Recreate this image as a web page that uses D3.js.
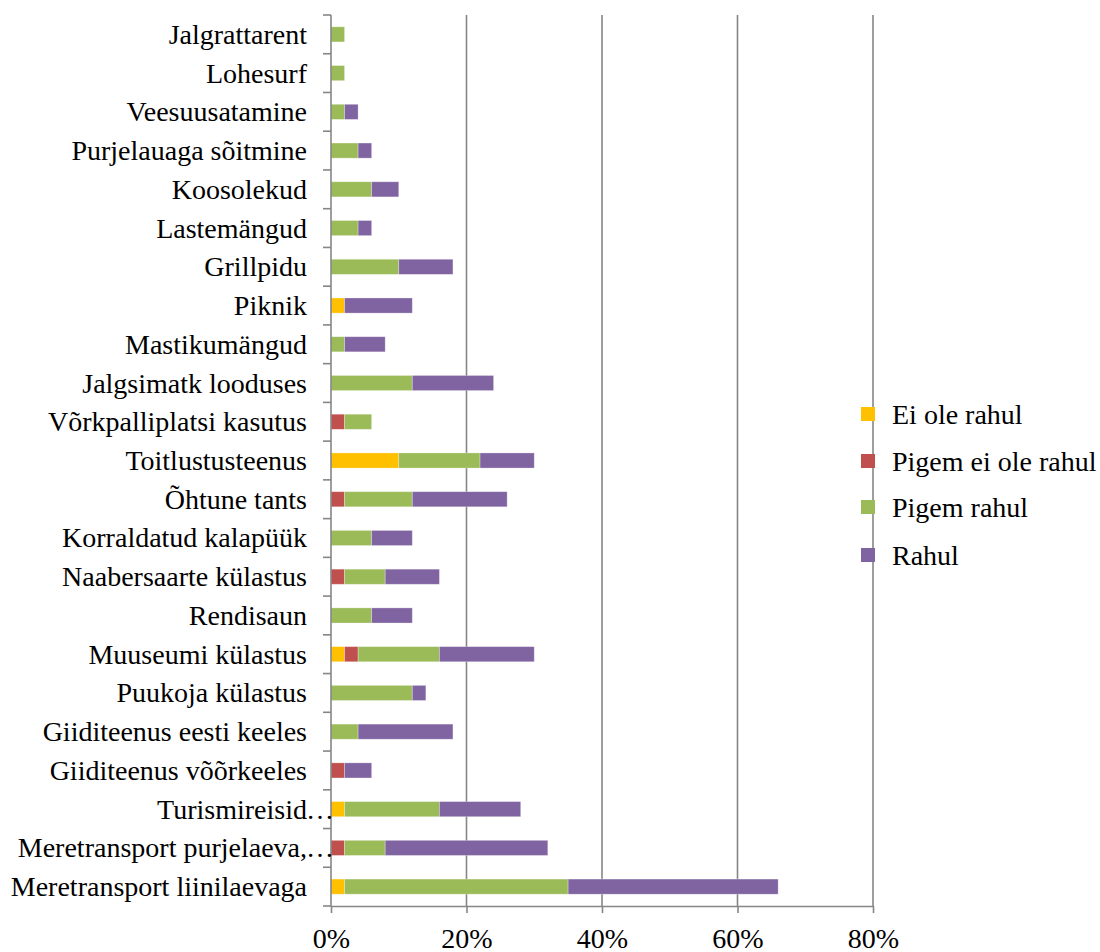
<!DOCTYPE html>
<html>
<head>
<meta charset="utf-8">
<script src="https://cdn.jsdelivr.net/npm/d3@7"></script>
<style>
  html, body { margin: 0; padding: 0; background: #ffffff; }
  svg { display: block; }
  text { font-family: "Liberation Serif", "Times New Roman", serif; fill: #000; }
</style>
</head>
<body>
<svg id="chart" width="1100" height="952"></svg>
<script>
// Categories, top to bottom
const categories = [
  "Jalgrattarent",
  "Lohesurf",
  "Veesuusatamine",
  "Purjelauaga sõitmine",
  "Koosolekud",
  "Lastemängud",
  "Grillpidu",
  "Piknik",
  "Mastikumängud",
  "Jalgsimatk looduses",
  "Võrkpalliplatsi kasutus",
  "Toitlustusteenus",
  "Õhtune tants",
  "Korraldatud kalapüük",
  "Naabersaarte külastus",
  "Rendisaun",
  "Muuseumi külastus",
  "Puukoja külastus",
  "Giiditeenus eesti keeles",
  "Giiditeenus võõrkeeles",
  "Turismireisid…",
  "Meretransport purjelaeva,…",
  "Meretransport liinilaevaga"
];

// Shares of respondents (%), one array per answer
const eiOleRahul      = [0, 0, 0, 0, 0, 0, 0, 2, 0, 0, 0, 10, 0, 0, 0, 0, 2, 0, 0, 0, 2, 0, 2];
const pigemEiOleRahul = [0, 0, 0, 0, 0, 0, 0, 0, 0, 0, 2, 0, 2, 0, 2, 0, 2, 0, 0, 2, 0, 2, 0];
const pigemRahul      = [2, 2, 2, 4, 6, 4, 10, 0, 2, 12, 4, 12, 10, 6, 6, 6, 12, 12, 4, 0, 14, 6, 33];
const rahul           = [0, 0, 2, 2, 4, 2, 8, 10, 6, 12, 0, 8, 14, 6, 8, 6, 14, 2, 14, 4, 12, 24, 31];

const seriesNames  = ["Ei ole rahul", "Pigem ei ole rahul", "Pigem rahul", "Rahul"];
const seriesColors = ["#FFC000", "#C0504D", "#9BBB59", "#8064A2"];
const xTicks = [0, 20, 40, 60, 80];

const seriesValues = [eiOleRahul, pigemEiOleRahul, pigemRahul, rahul];
const rows = categories.map((c, i) => {
  const r = { category: c };
  seriesNames.forEach((s, k) => { r[s] = seriesValues[k][i]; });
  return r;
});

const svg = d3.select("#chart");

const plotLeft = 331, plotRight = 873, plotTop = 15, plotBottom = 906;
const fontSize = 28;

const x = d3.scaleLinear().domain([0, 80]).range([plotLeft, plotRight]);
const y = d3.scaleBand()
  .domain(categories)
  .range([plotTop, plotBottom])
  .paddingInner(0.61)
  .paddingOuter(0.305);

const gridColor = "#868686";

// vertical gridlines
svg.append("g")
  .selectAll("line")
  .data(xTicks.filter(t => t > 0))
  .join("line")
  .attr("x1", d => x(d)).attr("x2", d => x(d))
  .attr("y1", plotTop).attr("y2", plotBottom)
  .attr("stroke", gridColor)
  .attr("stroke-width", 1.6);

// stacked bars
const stack = d3.stack().keys(seriesNames);
const stacked = stack(rows);

svg.append("g")
  .selectAll("g")
  .data(stacked)
  .join("g")
  .attr("fill", (d, i) => seriesColors[i])
  .selectAll("rect")
  .data(d => d.filter(p => p[1] - p[0] > 0))
  .join("rect")
  .attr("x", d => x(d[0]))
  .attr("width", d => x(d[1]) - x(d[0]))
  .attr("y", d => y(d.data.category))
  .attr("height", y.bandwidth())
  .attr("stroke", "rgba(255,255,255,0.35)")
  .attr("stroke-width", 0.8);

// bottom axis
const xAxis = d3.axisBottom(x)
  .tickValues(xTicks)
  .tickFormat(d => d + "%")
  .tickSizeInner(7)
  .tickSizeOuter(0)
  .tickPadding(15);

const gx = svg.append("g")
  .attr("transform", `translate(0,${plotBottom})`)
  .call(xAxis);
gx.select(".domain").attr("stroke", gridColor).attr("stroke-width", 1.6);
gx.selectAll(".tick line").attr("stroke", gridColor).attr("stroke-width", 1.6);
gx.selectAll(".tick text")
  .attr("font-family", "Liberation Serif, Times New Roman, serif")
  .attr("font-size", fontSize)
  .attr("fill", "#000");

// left axis line with ticks at band boundaries
const step = y.step();
const boundaries = categories.map(c => y(c) - (step - y.bandwidth()) / 2);
boundaries.push(plotBottom);

const gy = svg.append("g");
gy.append("line")
  .attr("x1", plotLeft).attr("x2", plotLeft)
  .attr("y1", plotTop).attr("y2", plotBottom)
  .attr("stroke", gridColor).attr("stroke-width", 1.6);
gy.selectAll("line.tk")
  .data(boundaries)
  .join("line")
  .attr("class", "tk")
  .attr("x1", plotLeft - 8).attr("x2", plotLeft)
  .attr("y1", d => d).attr("y2", d => d)
  .attr("stroke", gridColor).attr("stroke-width", 1.6);

// category labels; a trailing ellipsis runs past the label edge
const labelX = 307;
const labels = svg.append("g")
  .selectAll("g")
  .data(categories)
  .join("g")
  .attr("transform", d => `translate(0,${y(d) + y.bandwidth() / 2})`);
labels.append("text")
  .attr("x", labelX)
  .attr("text-anchor", "end")
  .attr("dominant-baseline", "central")
  .attr("font-size", fontSize)
  .text(d => d.endsWith("…") ? d.slice(0, -1) : d);
labels.filter(d => d.endsWith("…"))
  .append("text")
  .attr("x", labelX - 1)
  .attr("text-anchor", "start")
  .attr("dominant-baseline", "central")
  .attr("font-size", fontSize)
  .text("…");

// legend
const legendY = [414, 461, 507, 555];
const legend = svg.append("g")
  .selectAll("g")
  .data(seriesNames)
  .join("g")
  .attr("transform", (d, i) => `translate(861,${legendY[i]})`);
legend.append("rect")
  .attr("x", 0).attr("y", -7)
  .attr("width", 14).attr("height", 14)
  .attr("fill", (d, i) => seriesColors[i]);
legend.append("text")
  .attr("x", 31).attr("y", 0)
  .attr("dominant-baseline", "central")
  .attr("font-size", fontSize)
  .text(d => d);
</script>
</body>
</html>
